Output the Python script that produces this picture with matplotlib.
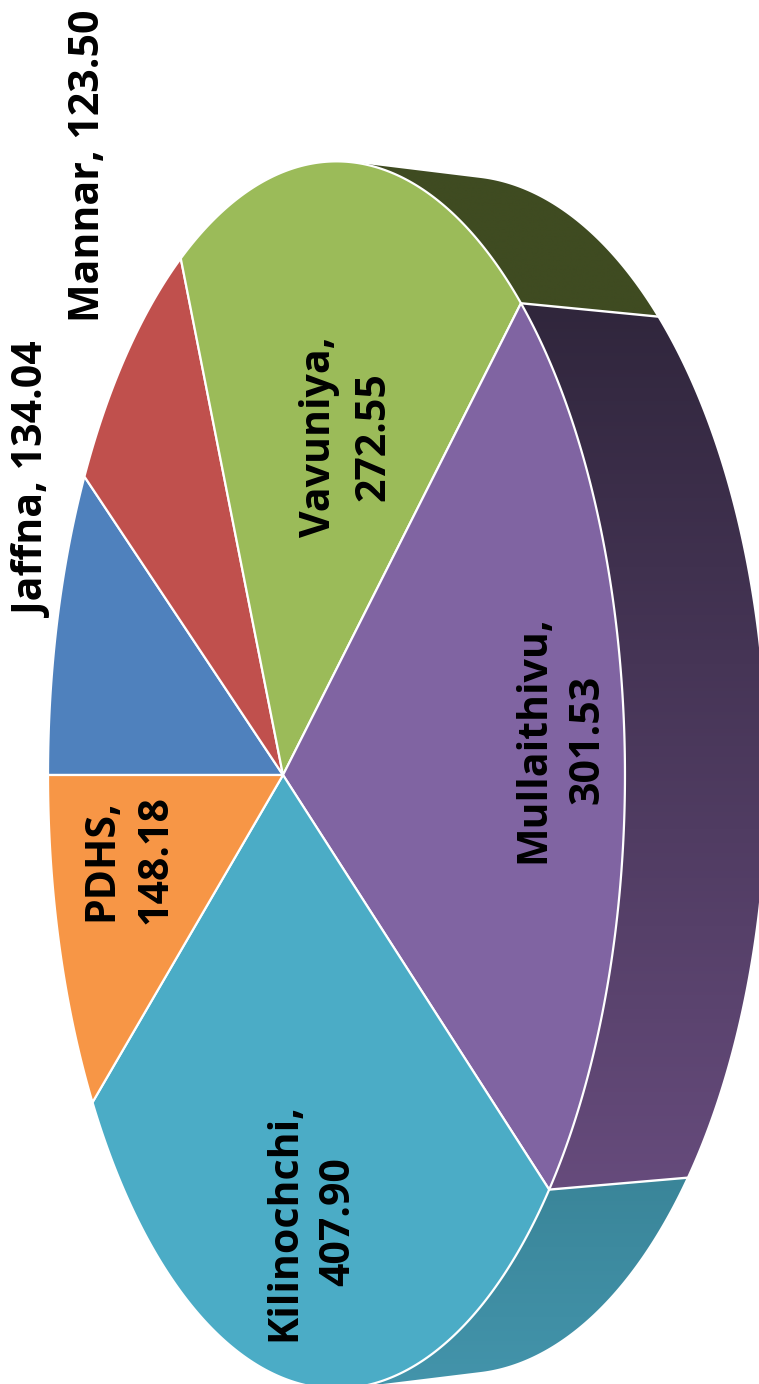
import numpy as np
import matplotlib
matplotlib.use('Agg')
import matplotlib.pyplot as plt
from matplotlib.colors import LinearSegmentedColormap
from matplotlib.patches import Polygon

names = ['Jaffna', 'Mannar', 'Vavuniya', 'Mullaithivu', 'Kilinochchi', 'PDHS']
values = [134.04, 123.50, 272.55, 301.53, 407.90, 148.18]
value_labels = ['134.04', '123.50', '272.55', '301.53', '407.90', '148.18']
top_colors = ['#4f81bd', '#c0504d', '#9bbb59', '#8064a2', '#4bacc6', '#f79646']
wall_start = ['#2f4d71', '#73302e', '#3f4b21', '#30263c', '#3a8599', '#94592a']
wall_end = ['#2f4d71', '#73302e', '#3f4b21', '#664b7c', '#4394ab', '#94592a']
label_xy = [(35, 480), (89, 166), (347, 437), (561, 739), (312, 1222), (129, 860)]
two_lines = [False, False, True, True, True, True]

# perspective of the tilted pie, fitted on the picture (pixels)
cx, cy = 283, 775
sx, sy = 226.1, 603
depth = 134
persp, persp_z = -0.1854, 0.025


def project(theta, z=0.0):
    x = -np.cos(theta)
    y = np.sin(theta)
    w = 1 + persp * x + persp_z * z
    return (cx + sx * x + depth * z) / w, cy - sy * y / w


fig = plt.figure(figsize=(7.59, 13.84), dpi=100)
ax = fig.add_axes([0, 0, 1, 1])

edges = np.cumsum([0] + values) / np.sum(values) * 2 * np.pi

# which part of the rim shows a wall: sign of generator x rim tangent
t = np.linspace(0, 2 * np.pi, 7201)
x0, y0 = project(t)
x1, y1 = project(t, 1.0)
side = (x1 - x0) * np.gradient(y0) - (y1 - y0) * np.gradient(x0)
visible = t[side > 0]
t_min, t_max = visible.min(), visible.max()

for i in range(len(values)):
    a = max(edges[i], t_min)
    b = min(edges[i + 1], t_max)
    if a >= b:
        continue
    th = np.linspace(a, b, 200)
    xa, ya = project(th)
    xb, yb = project(th[::-1], 1.0)
    pts = np.column_stack([np.r_[xa, xb], np.r_[ya, yb]])
    patch = Polygon(pts, closed=True, fc='none', ec='none')
    ax.add_patch(patch)
    cmap = LinearSegmentedColormap.from_list('wall', [wall_start[i], wall_end[i]])
    im = ax.imshow(np.linspace(0, 1, 256).reshape(-1, 1), cmap=cmap, aspect='auto',
                   extent=(pts[:, 0].min(), pts[:, 0].max(), pts[:, 1].max(), pts[:, 1].min()),
                   zorder=1, interpolation='bilinear')
    im.set_clip_path(patch)

# white seams between the walls
for e in edges:
    if t_min < e < t_max:
        xa, ya = project(e)
        xb, yb = project(e, 1.0)
        ax.plot([xa, xb], [ya, yb], color='white', lw=1.7, zorder=2)

# top face
for i in range(len(values)):
    th = np.linspace(edges[i], edges[i + 1], 200)
    xa, ya = project(th)
    pts = np.column_stack([np.r_[cx, xa], np.r_[cy, ya]])
    ax.add_patch(Polygon(pts, closed=True, fc=top_colors[i], ec='white', lw=1.6,
                         joinstyle='round', zorder=3))

for i in range(len(values)):
    sep = '\n' if two_lines[i] else ' '
    ax.text(label_xy[i][0], label_xy[i][1], names[i] + ',' + sep + value_labels[i],
            rotation=90, ha='center', va='center', ma='center', fontsize=29.5,
            fontweight='bold', family='Open Sans', linespacing=1.42, zorder=4)

ax.set_xlim(0, 759)
ax.set_ylim(1384, 0)
ax.axis('off')
fig.savefig('out.png', dpi=100)
